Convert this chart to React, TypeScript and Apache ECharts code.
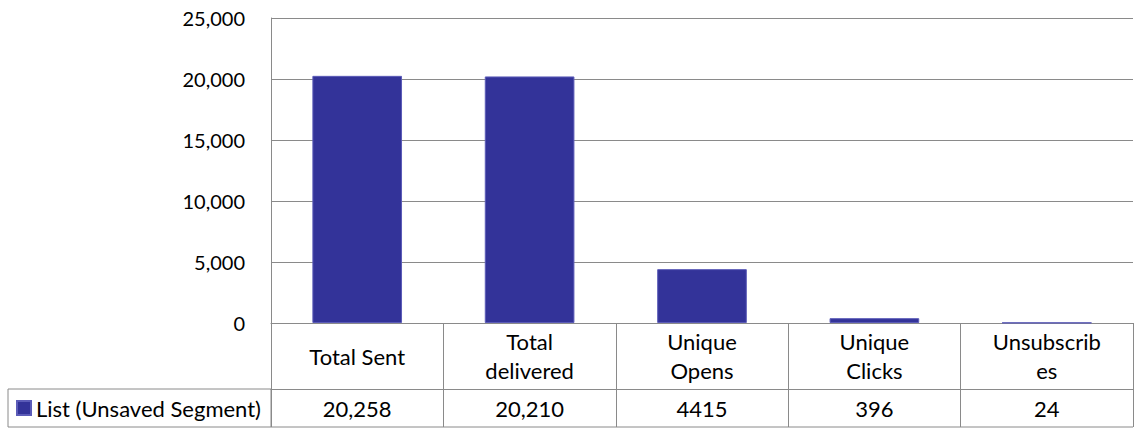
import React, { useEffect, useRef } from "react";
import * as echarts from "echarts";

const categories = ["Total Sent", "Total\ndelivered", "Unique\nOpens", "Unique\nClicks", "Unsubscrib\nes"];
const seriesName = "List (Unsaved Segment)";
const values = [20258, 20210, 4415, 396, 24];
const tableLabels = ["20,258", "20,210", "4415", "396", "24"];
const yTicks = { min: 0, max: 25000, interval: 5000 };

const FONT = "Lato, 'Noto Sans', sans-serif";
const LINE = "#8a8a8a";
const BAR = "#333399";

export default function App() {
  const ref = useRef<HTMLDivElement>(null);
  useEffect(() => {
    if (!ref.current) return;
    const chart = echarts.init(ref.current, undefined, { renderer: "svg" });
    chart.setOption({
      animation: false,
      textStyle: { fontFamily: FONT },
      grid: { left: 271, right: 3, top: 18, bottom: 107 },
      legend: {
        data: [seriesName],
        left: 16,
        top: 397,
        padding: 0,
        icon: "rect",
        itemWidth: 14,
        itemHeight: 14,
        textStyle: { fontSize: 22, color: "#000", fontFamily: FONT },
        selectedMode: false,
      },
      xAxis: [
        {
          type: "category",
          data: categories,
          position: "bottom",
          axisLine: { show: true, lineStyle: { color: LINE, width: 1 } },
          axisTick: { show: true, length: 66, interval: 0, lineStyle: { color: LINE } },
          axisLabel: {
            interval: 0,
            margin: 33,
            verticalAlign: "middle",
            fontSize: 22,
            lineHeight: 29,
            color: "#000",
            fontFamily: FONT,
          },
        },
        {
          type: "category",
          data: tableLabels,
          position: "bottom",
          offset: 66,
          axisLine: { show: true, lineStyle: { color: LINE, width: 1 } },
          axisTick: { show: true, length: 38, interval: 0, lineStyle: { color: LINE } },
          axisLabel: {
            interval: 0,
            margin: 19,
            verticalAlign: "middle",
            fontSize: 22,
            color: "#000",
            fontFamily: FONT,
          },
        },
      ],
      yAxis: {
        type: "value",
        min: yTicks.min,
        max: yTicks.max,
        interval: yTicks.interval,
        axisLine: { show: true, lineStyle: { color: LINE } },
        axisTick: { show: false },
        splitLine: { show: true, lineStyle: { color: LINE, width: 1 } },
        axisLabel: {
          margin: 26,
          fontSize: 20,
          color: "#000",
          fontFamily: FONT,
          formatter: (v: number) => v.toLocaleString("en-US"),
        },
      },
      series: [
        {
          name: seriesName,
          type: "bar",
          xAxisIndex: 0,
          data: values,
          barWidth: "52%",
          itemStyle: { color: BAR, borderColor: "#5c5cb8", borderWidth: 1 },
        },
      ],
      graphic: [
        {
          type: "rect",
          shape: { x: 8, y: 389, width: 263, height: 38 },
          style: { fill: "none", stroke: LINE, lineWidth: 1 },
          silent: true,
        },
        {
          type: "line",
          shape: { x1: 271, y1: 427, x2: 1133, y2: 427 },
          style: { stroke: LINE, lineWidth: 1 },
          silent: true,
        },
      ],
    });
    return () => chart.dispose();
  }, []);
  return <div ref={ref} style={{ width: 1136, height: 430, position: "absolute", left: 0, top: 0 }} />;
}
